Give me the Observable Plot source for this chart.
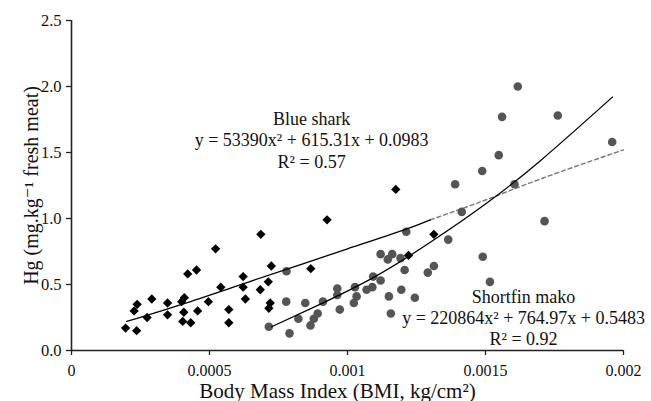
<!DOCTYPE html>
<html>
<head>
<meta charset="utf-8">
<script src="https://cdn.jsdelivr.net/npm/d3@7"></script>
<script src="https://cdn.jsdelivr.net/npm/@observablehq/plot@0.6"></script>
<style>
  html, body { margin: 0; padding: 0; background: #fff; }
  #chart { width: 651px; height: 401px; overflow: hidden; }
</style>
</head>
<body>
<div id="chart"></div>
<script>
// Blue shark (diamonds)
const sharkX = [0.000196,0.000236,0.000238,0.000227,0.000274,0.000291,0.000348,0.000348,0.000399,0.000409,0.000407,0.000403,0.000432,0.000421,0.000453,0.000457,0.000496,0.000522,0.000541,0.000570,0.000570,0.000622,0.000622,0.000630,0.000686,0.000724,0.000713,0.000684,0.000720,0.000715,0.000867,0.000926,0.001175,0.001313,0.001221];
const sharkY = [0.17,0.15,0.35,0.30,0.25,0.39,0.36,0.27,0.37,0.40,0.29,0.22,0.21,0.58,0.61,0.30,0.37,0.77,0.48,0.31,0.21,0.56,0.48,0.39,0.88,0.64,0.52,0.46,0.36,0.32,0.62,0.99,1.22,0.88,0.72];

// Shortfin mako (grey circles)
const makoX = [0.000779,0.000778,0.000715,0.000790,0.000822,0.000847,0.000866,0.000878,0.000892,0.000911,0.000963,0.000963,0.000972,0.001027,0.001033,0.001023,0.001069,0.001090,0.001093,0.001120,0.001120,0.001146,0.001162,0.001192,0.001207,0.001213,0.001150,0.001195,0.001157,0.001244,0.001291,0.001313,0.001365,0.001390,0.001414,0.001617,0.001560,0.001762,0.001959,0.001548,0.001488,0.001605,0.001714,0.001490,0.001516];
const makoY = [0.60,0.37,0.18,0.13,0.24,0.36,0.19,0.24,0.28,0.37,0.47,0.42,0.31,0.48,0.41,0.36,0.46,0.48,0.56,0.53,0.73,0.69,0.73,0.70,0.61,0.90,0.41,0.46,0.28,0.40,0.59,0.64,0.84,1.26,1.05,2.00,1.77,1.78,1.58,1.48,1.36,1.26,0.98,0.71,0.52];

// Trend curves
const sharkFitX = [0.0002,0.0004,0.0006,0.0008,0.001,0.0012,0.0013];
const sharkFitY = [0.22,0.35,0.49,0.63,0.77,0.91,0.99];
const sharkExtX = [0.0013,0.0015,0.0017,0.002];
const sharkExtY = [0.99,1.14,1.30,1.52];
const makoFitX = [0.000725,0.0009,0.0011,0.0013,0.0015,0.0017,0.00196];
const makoFitY = [0.18,0.35,0.56,0.82,1.11,1.44,1.92];

// Ticks
const xTicks = [0,0.0005,0.001,0.0015,0.002];
const xTickLabels = ["0","0.0005","0.001","0.0015","0.002"];
const yTicks = [0,0.5,1,1.5,2,2.5];
const yTickLabels = ["0.0","0.5","1.0","1.5","2.0","2.5"];

// Annotations
const sharkLabel = "Blue shark\ny = 53390x² + 615.31x + 0.0983\nR² = 0.57";
const makoLabel = "Shortfin mako\ny = 220864x² + 764.97x + 0.5483\nR² = 0.92";
const xTitle = "Body Mass Index (BMI, kg/cm²)";
const yTitle = "Hg (mg.kg⁻¹ fresh meat)";

const zip = (xs, ys) => xs.map((x, i) => ({x, y: ys[i]}));
const shark = zip(sharkX, sharkY);
const mako = zip(makoX, makoY);
const sharkFit = zip(sharkFitX, sharkFitY);
const sharkExt = zip(sharkExtX, sharkExtY);
const makoFit = zip(makoFitX, makoFitY);

const axisColor = "#222";

const chart = Plot.plot({
  width: 651,
  height: 401,
  marginLeft: 71,
  marginRight: 28,
  marginTop: 20,
  marginBottom: 51,
  style: {fontFamily: "'Liberation Serif', 'DejaVu Serif', serif", fontSize: "16px", color: "#111", background: "#fff"},
  x: {domain: [0, 0.002]},
  y: {domain: [0, 2.5]},
  marks: [
    Plot.axisX({ticks: xTicks, tickFormat: (d) => xTickLabels[xTicks.indexOf(d)], tickSize: 5, tickPadding: 9, label: null, fontSize: 16, stroke: axisColor, strokeWidth: 1.3}),
    Plot.axisY({ticks: yTicks, tickFormat: (d) => yTickLabels[yTicks.indexOf(d)], tickSize: 5, tickPadding: 5, label: null, fontSize: 16.5, stroke: axisColor, strokeWidth: 1.3}),
    Plot.ruleY([0], {stroke: axisColor, strokeWidth: 1.6}),
    Plot.ruleX([0], {stroke: axisColor, strokeWidth: 1.6}),
    Plot.line(sharkExt, {x: "x", y: "y", stroke: "#777", strokeWidth: 1.4, strokeDasharray: "4,3", curve: "natural"}),
    Plot.dot(mako, {x: "x", y: "y", r: 4.3, fill: "#555", stroke: "none"}),
    Plot.dot(shark, {x: "x", y: "y", symbol: "diamond2", r: 4.2, fill: "#000", stroke: "none"}),
    Plot.line(sharkFit, {x: "x", y: "y", stroke: "#000", strokeWidth: 1.3, curve: "natural"}),
    Plot.line(makoFit, {x: "x", y: "y", stroke: "#000", strokeWidth: 1.3, curve: "natural"}),
    Plot.text([sharkLabel], {x: 0.00087, y: 1.381, text: (d) => d, fontSize: 18, lineHeight: 1.21, lineAnchor: "bottom", textAnchor: "middle", fill: "#111"}),
    Plot.text([makoLabel], {x: 0.001638, y: 0.038, text: (d) => d, fontSize: 18, lineHeight: 1.18, lineAnchor: "bottom", textAnchor: "middle", fill: "#111"}),
    Plot.text([xTitle], {frameAnchor: "bottom", text: (d) => d, dx: -10, dy: 47, lineAnchor: "bottom", textAnchor: "middle", fontSize: 21, fill: "#111"}),
    Plot.text([yTitle], {frameAnchor: "left", text: (d) => d, rotate: -90, dx: -40, dy: 0, lineAnchor: "middle", textAnchor: "middle", fontSize: 20, fill: "#111"})
  ]
});
document.getElementById("chart").appendChild(chart);
</script>
</body>
</html>
